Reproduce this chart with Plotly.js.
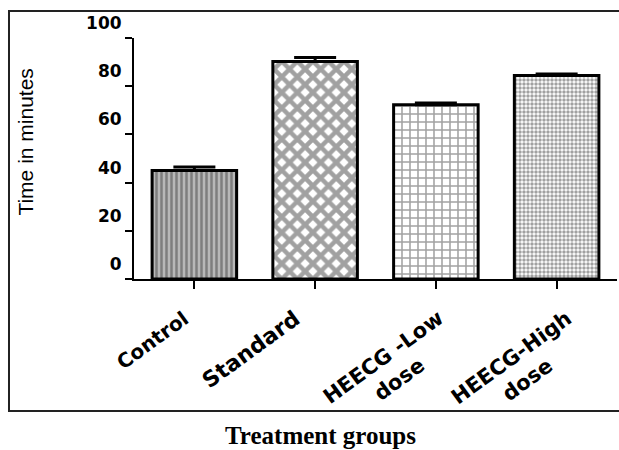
<!DOCTYPE html>
<html>
<head>
<meta charset="utf-8">
<script src="https://cdn.plot.ly/plotly-3.0.1.min.js"></script>
<style>
html,body{margin:0;padding:0;background:#fff;}
#chart{width:619px;height:450px;}
</style>
</head>
<body>
<div id="chart"></div>
<script>
// ---- data ----
const categories = ["Control", "Standard", "HEECG -Low dose", "HEECG-High dose"];
const tickLabels = ["Control", "Standard", "HEECG -Low<br>dose", "HEECG-High<br>dose"];
const meanTime = [45.0, 90.2, 72.3, 84.4];
const semTime = [1.5, 1.7, 0.7, 0.7];
const yTickValues = [0, 20, 40, 60, 80, 100];
const yTickText = ["0", "20", "40", "60", "80", "100"];
const yAxisTitle = "Time in minutes";
const xAxisTitle = "Treatment groups";

// ---- style ----
const patShape = ["|", "x", "+", "."];
const patSize = [5, 11, 8, 4];
const patSolidity = [0.5, 0.65, 0.35, 0.6];
const patFg = ["#222222", "#000000", "#111111", "#111111"];
const patBg = ["#b8b8b8", "#ffffff", "#ffffff", "#ffffff"];
const labelFonts = [
  {family: "DejaVu Sans", size: 20, color: "#000", weight: "bold"},
  {family: "DejaVu Sans", size: 22, color: "#000", weight: "bold"},
  {family: "DejaVu Sans", size: 21, color: "#000", weight: "bold"},
  {family: "DejaVu Sans", size: 21, color: "#000", weight: "bold"}
];
const labelShiftX = [2, -8, 30, 38];

const trace = {
  type: "bar",
  x: categories,
  y: meanTime,
  width: 0.7,
  marker: {
    color: patBg,
    line: {color: "#000000", width: 3},
    pattern: {
      shape: patShape,
      size: patSize,
      solidity: patSolidity,
      fgcolor: patFg,
      fillmode: "overlay"
    }
  },
  error_y: {
    type: "data",
    symmetric: false,
    array: semTime,
    arrayminus: semTime.map(() => 0),
    color: "#000000",
    thickness: 3,
    width: 21
  },
  hoverinfo: "x+y"
};

const annotations = categories.map((c, i) => ({
  x: c, xref: "x",
  y: 0, yref: "paper",
  yshift: -24, xshift: labelShiftX[i],
  xanchor: "right", yanchor: "top",
  text: tickLabels[i],
  textangle: -36,
  align: "center",
  showarrow: false,
  font: labelFonts[i]
}));

annotations.push({
  x: -0.2236, xref: "paper", y: 0.566, yref: "paper",
  xanchor: "center", yanchor: "middle",
  text: yAxisTitle, textangle: -90, showarrow: false,
  font: {family: "Liberation Sans, Arial, sans-serif", size: 21, color: "#000"}
});
annotations.push({
  x: 0.386, xref: "paper", y: -0.651, yref: "paper",
  xanchor: "center", yanchor: "middle",
  text: xAxisTitle, showarrow: false,
  font: {family: "Liberation Serif, Times New Roman, serif", size: 25, color: "#000", weight: "bold"}
});

const layout = {
  width: 619, height: 450,
  margin: {l: 134, r: 2, t: 38, b: 171, pad: 0},
  paper_bgcolor: "#ffffff",
  plot_bgcolor: "#ffffff",
  showlegend: false,
  xaxis: {
    type: "category",
    range: [-0.5, 3.5],
    showline: true, linecolor: "#000", linewidth: 2,
    ticks: "outside", ticklen: 8, tickwidth: 2, tickcolor: "#000",
    showticklabels: false, showgrid: false, zeroline: false,
    fixedrange: true
  },
  yaxis: {
    range: [0, 100],
    showline: true, linecolor: "#000", linewidth: 2,
    ticks: "outside", ticklen: 7, tickwidth: 2, tickcolor: "#000",
    tickmode: "array", tickvals: yTickValues, ticktext: yTickText,
    ticklabelshift: -15,
    tickfont: {family: "DejaVu Sans", size: 17, color: "#000", weight: "bold"},
    showgrid: false, zeroline: false,
    fixedrange: true
  },
  annotations: annotations,
  shapes: [
    {type: "rect", xref: "paper", yref: "paper",
     x0: -0.2588, x1: 1.01, y0: -0.5477, y1: 1.112,
     line: {color: "#222", width: 2}, fillcolor: "rgba(0,0,0,0)", layer: "above"},
    {type: "line", xref: "paper", yref: "paper",
     x0: -0.0166, x1: 0, y0: 0, y1: 0,
     line: {color: "#000", width: 2}}
  ]
};

Plotly.newPlot("chart", [trace], layout, {displayModeBar: false, staticPlot: true});
</script>
</body>
</html>
